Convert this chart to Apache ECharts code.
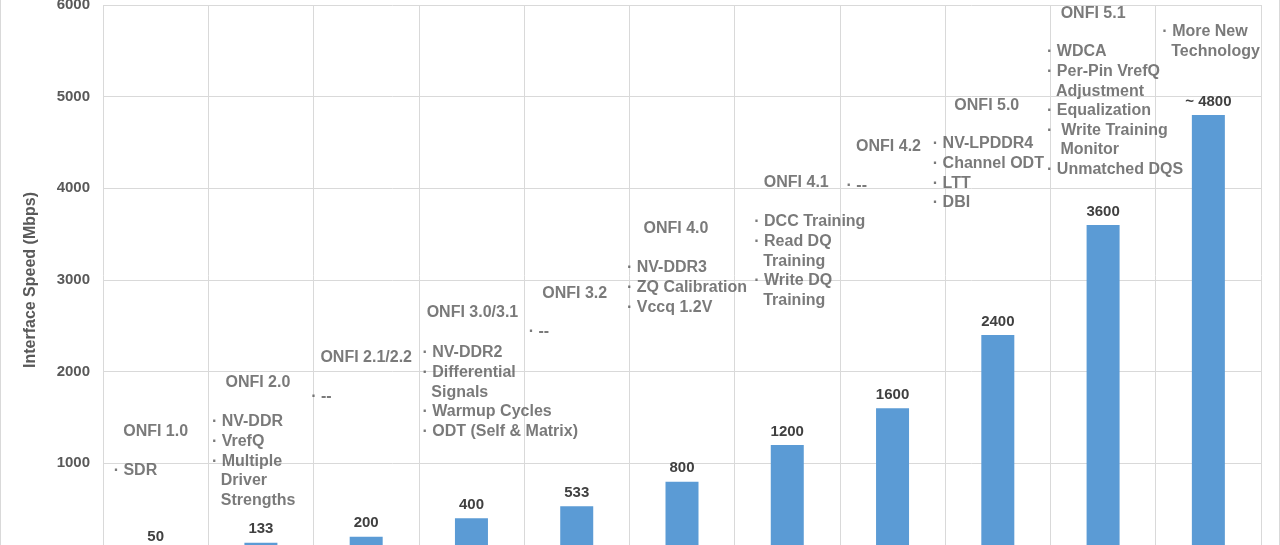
<!DOCTYPE html>
<html>
<head>
<meta charset="utf-8">
<script src="https://cdn.jsdelivr.net/npm/echarts@6/dist/echarts.min.js"></script>
<style>
  html, body { margin: 0; padding: 0; background: #fff; }
  #chart {
    width: 1280px;
    height: 545px;
    box-sizing: border-box;
    border-left: 1px solid #d9d9d9;
    border-right: 1px solid #d9d9d9;
  }
</style>
</head>
<body>
<div id="chart"></div>
<script>
// ONFI generations and their interface speed (Mbps)
const categories = ['ONFI 1.0', 'ONFI 2.0', 'ONFI 2.1/2.2', 'ONFI 3.0/3.1', 'ONFI 3.2',
  'ONFI 4.0', 'ONFI 4.1', 'ONFI 4.2', 'ONFI 5.0', 'ONFI 5.1', 'Next'];
const speeds = [50, 133, 200, 400, 533, 800, 1200, 1600, 2400, 3600, 4800];
const speedLabels = ['50', '133', '200', '400', '533', '800', '1200', '1600', '2400', '3600', '~ 4800'];
const versionTitles = ['ONFI 1.0', 'ONFI 2.0', 'ONFI 2.1/2.2', 'ONFI 3.0/3.1', 'ONFI 3.2',
  'ONFI 4.0', 'ONFI 4.1', 'ONFI 4.2', 'ONFI 5.0', 'ONFI 5.1', ''];
const features = [
  ['SDR'],
  ['NV-DDR', 'VrefQ', 'Multiple\nDriver\nStrengths'],
  ['--'],
  ['NV-DDR2', 'Differential\nSignals', 'Warmup Cycles', 'ODT (Self & Matrix)'],
  ['--'],
  ['NV-DDR3', 'ZQ Calibration', 'Vccq 1.2V'],
  ['DCC Training', 'Read DQ\nTraining', 'Write DQ\nTraining'],
  ['--'],
  ['NV-LPDDR4', 'Channel ODT', 'LTT', 'DBI'],
  ['WDCA', 'Per-Pin VrefQ\nAdjustment', 'Equalization', ' Write Training\n Monitor', 'Unmatched DQS'],
  ['More New\nTechnology']
];
// heights (in Mbps) where the annotation text sits in the picture
const titleLevels = [1342, 1876, 2149, 2640, 2847, 3556, 4058, 4451, 4898, 5902, null];
const featureLevels = [916, 1451, 1724, 2204, 2433, 3131, 3633, 4026, 4484, 5488, 5706];
const yTicks = [0, 6000, 1000];

// horizontal nudges (px) of the text blocks relative to the category centre
const titleShift = [0, -3, 0, 1, -2, -6, 9, -4, -11, -10, 0];
const featureShift = [-42, -49, -55, -49, -48, -55, -33, -46, -65, -56, -46];

const FONT = '"Liberation Sans", Arial, Helvetica, sans-serif';
const GRAY = '#595959';
const LINE_H = 19.6;

const chart = echarts.init(document.getElementById('chart'));

const titleData = [];
versionTitles.forEach((t, i) => {
  if (!t || titleLevels[i] == null) return;
  titleData.push({
    value: [i, titleLevels[i]],
    name: t,
    label: { offset: [titleShift[i], 0] }
  });
});

const featureData = features.map((list, i) => {
  const text = list.map(f => '· ' + f.split('\n').join('\n  ')).join('\n');
  return {
    value: [i, featureLevels[i]],
    name: text,
    label: { offset: [featureShift[i], -LINE_H / 2] }
  };
});

const noteLabel = {
  show: true,
  position: 'inside',
  color: GRAY,
  fontFamily: FONT,
  fontWeight: 'bold',
  fontSize: 16,
  lineHeight: LINE_H
};

const option = {
  animation: false,
  backgroundColor: '#fff',
  // the zero line sits just below the bottom edge of the picture
  grid: {
    left: 102, right: 18, top: 5, height: 550,
    containLabel: false,
    outerBoundsMode: 'none'
  },
  xAxis: {
    type: 'category',
    data: categories,
    boundaryGap: true,
    axisLine: { show: false },
    axisTick: { show: false },
    axisLabel: { show: false },
    splitLine: { show: true, lineStyle: { color: '#d9d9d9', width: 1 } }
  },
  yAxis: {
    type: 'value',
    min: yTicks[0],
    max: yTicks[1],
    interval: yTicks[2],
    name: 'Interface Speed (Mbps)',
    nameLocation: 'middle',
    nameGap: 64,
    nameTextStyle: { color: GRAY, fontFamily: FONT, fontWeight: 'bold', fontSize: 16 },
    axisLine: { show: false },
    axisTick: { show: false },
    axisLabel: {
      color: GRAY, fontFamily: FONT, fontWeight: 'bold', fontSize: 15, margin: 13,
      formatter: v => String(v)
    },
    splitLine: { show: true, lineStyle: { color: '#d9d9d9', width: 1 } }
  },
  series: [
    {
      name: 'Interface Speed',
      type: 'bar',
      data: speeds,
      barWidth: 33,
      itemStyle: { color: '#5b9bd5' },
      label: {
        show: true,
        position: 'top',
        distance: 6,
        color: '#404040',
        fontFamily: FONT,
        fontWeight: 'bold',
        fontSize: 15,
        formatter: p => speedLabels[p.dataIndex]
      }
    },
    {
      name: 'Versions',
      type: 'scatter',
      data: titleData,
      symbolSize: 1,
      itemStyle: { color: 'rgba(0,0,0,0)' },
      silent: true,
      label: Object.assign({}, noteLabel, {
        align: 'center',
        verticalAlign: 'middle',
        formatter: p => p.name
      })
    },
    {
      name: 'Features',
      type: 'scatter',
      data: featureData,
      symbolSize: 1,
      itemStyle: { color: 'rgba(0,0,0,0)' },
      silent: true,
      label: Object.assign({}, noteLabel, {
        align: 'left',
        verticalAlign: 'top',
        formatter: p => p.name
      })
    }
  ]
};

chart.setOption(option);
window.addEventListener('resize', () => chart.resize());
</script>
</body>
</html>
